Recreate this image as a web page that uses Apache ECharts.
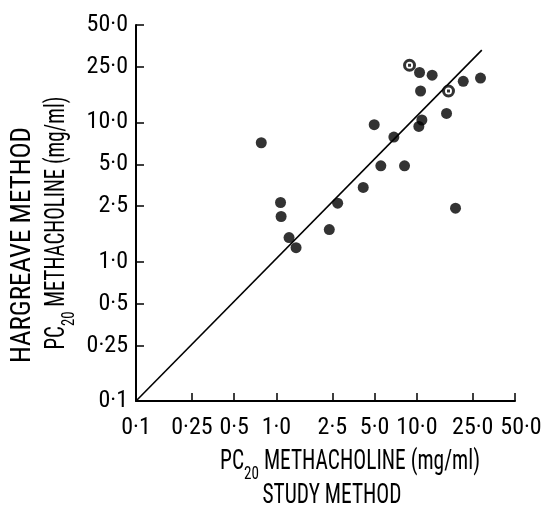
<!DOCTYPE html>
<html>
<head>
<meta charset="utf-8">
<script src="https://cdn.jsdelivr.net/npm/echarts@6/dist/echarts.min.js"></script>
<style>html,body{margin:0;padding:0;background:#fff;}#c{width:545px;height:510px;}</style>
</head>
<body>
<div id="c"></div>
<script>
// Tick values and labels (both axes)
const tickValues = [0.1, 0.25, 0.5, 1, 2.5, 5, 10, 25, 50];
const tickLabels = ['0·1', '0·25', '0·5', '1·0', '2·5', '5·0', '10·0', '25·0', '50·0'];

// Study method PC20 (x) vs Hargreave method PC20 (y), mg/ml
const studyX = [0.78, 1.07, 1.08, 1.23, 1.38, 2.38, 2.73, 4.15, 4.97, 5.54, 6.86, 8.17, 10.45, 12.85, 10.63, 10.86, 10.33, 16.27, 18.85, 21.4, 28.4];
const hargY  = [7.14, 2.66, 2.11, 1.49, 1.26, 1.70, 2.63, 3.41, 9.62, 4.88, 7.84, 4.88, 22.8, 21.8, 16.8, 10.4, 9.36, 11.6, 2.42, 19.7, 20.8];

// Open-circle points
const openX = [8.87, 16.8];
const openY = [25.7, 16.8];

// Fitted line end points
const lineX = [0.1, 29];
const lineY = [0.1, 33];

const FONT = '"Roboto Condensed", "Open Sans", sans-serif';
const findLabel = v => {
  for (let i = 0; i < tickValues.length; i++) {
    if (Math.abs(tickValues[i] - v) / tickValues[i] < 1e-6) return i;
  }
  return -1;
};
const fmtY = v => { const i = findLabel(v); return i < 0 ? '' : tickLabels[i]; };
const fmtX = v => {
  const i = findLabel(v);
  if (i < 0) return '';
  return i === tickValues.length - 1 ? '{m|' + tickLabels[i] + '}' : tickLabels[i];
};

// measure helper to fit title widths
const mctx = document.createElement('canvas').getContext('2d');
function textW(parts) {
  let w = 0;
  parts.forEach(p => { mctx.font = p[1] + 'px ' + FONT; w += mctx.measureText(p[0]).width; });
  return w;
}
const TS = 27, SS = 19;
const pcParts = [['PC', TS], ['20', SS], [' METHACHOLINE (mg/ml)', TS]];
const wPC = textW(pcParts);
const wStudy = textW([['STUDY METHOD', TS]]);
const wHarg = textW([['HARGREAVE METHOD', TS]]);

const axisCommon = {
  type: 'log',
  logBase: 10,
  min: 0.1,
  max: 50,
  axisLine: { show: true, lineStyle: { color: '#000', width: 2 } },
  axisTick: { show: true, inside: true, length: 8, lineStyle: { color: '#000', width: 1.5 }, customValues: tickValues },
  minorTick: { show: false },
  splitLine: { show: false },
  axisLabel: {
    customValues: tickValues,
    color: '#000',
    fontFamily: FONT,
    fontSize: 24,
    hideOverlap: false,
    showMinLabel: true,
    showMaxLabel: true
  }
};

const titleRich = {
  a: { fontFamily: FONT, fontSize: TS, lineHeight: 44, fill: '#000', verticalAlign: 'middle' },
  s: { fontFamily: FONT, fontSize: SS, lineHeight: 44, fill: '#000', verticalAlign: 'bottom' }
};

const chart = echarts.init(document.getElementById('c'), null, { renderer: 'canvas' });
chart.setOption({
  backgroundColor: '#fff',
  animation: false,
  grid: { left: 136, right: 30, top: 25, bottom: 109, outerBoundsMode: 'none', containLabel: false },
  xAxis: Object.assign({}, axisCommon, {
    axisLabel: Object.assign({}, axisCommon.axisLabel, {
      margin: 15, formatter: fmtX,
      rich: { m: { fontFamily: FONT, fontSize: 24, color: '#000', padding: [0, 0, 0, 12] } }
    })
  }),
  yAxis: Object.assign({}, axisCommon, {
    axisLabel: Object.assign({}, axisCommon.axisLabel, { margin: 8, formatter: fmtY })
  }),
  graphic: [
    {
      type: 'text', x: 350, y: 462, scaleX: 260 / wPC,
      style: { text: '{a|PC}{s|20}{a| METHACHOLINE (mg/ml)}', rich: titleRich, align: 'center', verticalAlign: 'middle' }
    },
    {
      type: 'text', x: 332, y: 496, scaleX: 139 / wStudy,
      style: { text: 'STUDY METHOD', fontFamily: FONT, fontSize: TS, fill: '#000', align: 'center', verticalAlign: 'middle' }
    },
    {
      type: 'text', x: 23, y: 245, rotation: Math.PI / 2, scaleX: 236 / wHarg,
      style: { text: 'HARGREAVE METHOD', fontFamily: FONT, fontSize: TS, fill: '#000', align: 'center', verticalAlign: 'middle' }
    },
    {
      type: 'text', x: 57, y: 223, rotation: Math.PI / 2, scaleX: 253 / wPC,
      style: { text: '{a|PC}{s|20}{a| METHACHOLINE (mg/ml)}', rich: titleRich, align: 'center', verticalAlign: 'middle' }
    }
  ],
  series: [
    {
      type: 'line',
      data: lineX.map((x, i) => [x, lineY[i]]),
      showSymbol: false,
      symbol: 'none',
      lineStyle: { color: '#000', width: 1.6 },
      silent: true,
      z: 1
    },
    {
      type: 'scatter',
      data: studyX.map((x, i) => [x, hargY[i]]),
      symbol: 'circle',
      symbolSize: 11,
      itemStyle: { color: '#000' },
      z: 3
    },
    {
      type: 'scatter',
      data: openX.map((x, i) => [x, openY[i]]),
      symbol: 'circle',
      symbolSize: 10,
      itemStyle: { color: '#fff', borderColor: '#000', borderWidth: 3 },
      z: 4
    },
    {
      type: 'scatter',
      data: openX.map((x, i) => [x, openY[i]]),
      symbol: 'rect',
      symbolSize: 3,
      itemStyle: { color: '#000' },
      z: 5
    }
  ]
});
</script>
</body>
</html>
